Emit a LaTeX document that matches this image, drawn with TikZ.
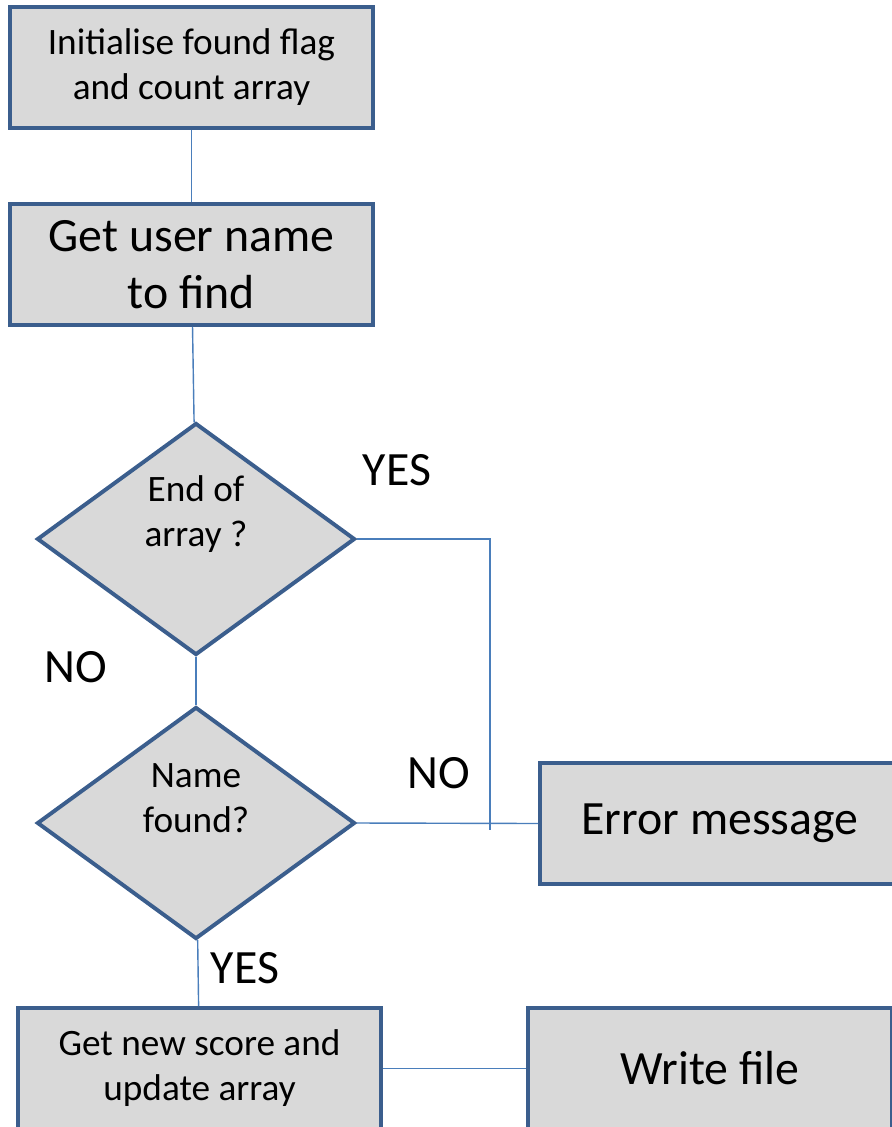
\documentclass[tikz,border=0pt]{standalone}
\usepackage{fontspec}
\setmainfont{Carlito}
\usepackage{tikz}
\usetikzlibrary{shapes.geometric, positioning}

\definecolor{boxline}{HTML}{3B5E8D}
\definecolor{boxfill}{HTML}{D9D9D9}
\definecolor{linkline}{HTML}{4A7EBB}

\begin{document}
\begin{tikzpicture}[
    x=0.025cm, y=-0.025cm,
    every node/.style={font=\fontsize{26.5}{32}\selectfont},
    box/.style={rectangle, draw=boxline, line width=2.8pt, fill=boxfill, align=center, inner sep=0pt},
    decision/.style={diamond, draw=boxline, line width=2.8pt, fill=boxfill, inner sep=0pt,
        minimum width=318*0.025cm, minimum height=232*0.025cm},
    dtext/.style={align=center, yshift=0.62cm},
    big/.style={font=\fontsize{34}{41}\selectfont},
    line/.style={draw=linkline, line width=1pt},
    lbl/.style={big}
]
\clip (0,0) rectangle (892,1127);
\useasboundingbox (0,0) rectangle (892,1127);

% Boxes
\node[box, minimum width=363*0.025cm, minimum height=121*0.025cm] (init) at (191.5,67.5) {Initialise found flag\\and count array};
\node[box, big, minimum width=363*0.025cm, minimum height=121*0.025cm] (getname) at (191.5,264.5) {Get user name\\to find};
\node[decision, label={[dtext]center:End of\\array ?}] (endarr) at (196,539) {};
\node[decision, label={[dtext]center:Name\\found?}] (found) at (196,823) {};
\node[box, big, minimum width=360*0.025cm, minimum height=121*0.025cm] (error) at (720,823.5) {Error message};
\node[box, minimum width=363*0.025cm, minimum height=121*0.025cm] (newscore) at (199.5,1068.5) {Get new score and\\update array};
\node[box, big, minimum width=364*0.025cm, minimum height=121*0.025cm] (write) at (710,1068.5) {Write file};
\coordinate (yesend) at (490,830);

% Labels
\node[lbl] (yes1) at (397,470) {YES};
\node[lbl] (no1) at (76,667) {NO};
\node[lbl] (no2) at (439,773) {NO};
\node[lbl] (yes2) at (245,968) {YES};

% Lines
\draw[line] (init) -- (getname);
\draw[line] (getname) -- (endarr);
\draw[line] (endarr.east) -| (yesend);
\draw[line] (endarr) -- (found);
\draw[line] (found.east) -- (error.west);
\draw[line] (found) -- (newscore);
\draw[line] (newscore) -- (write);

\end{tikzpicture}
\end{document}
